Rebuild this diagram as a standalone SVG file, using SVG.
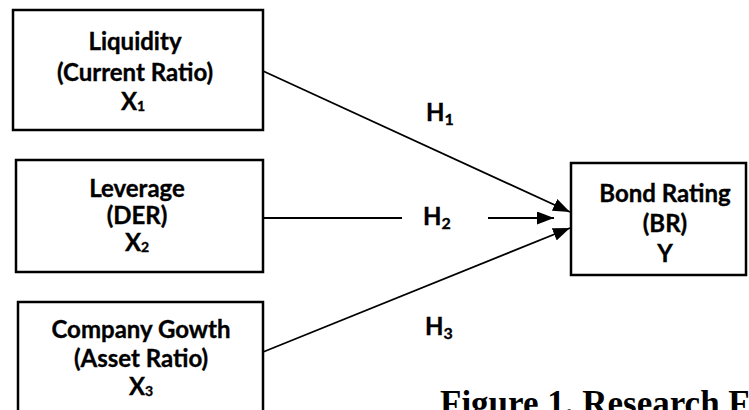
<svg xmlns="http://www.w3.org/2000/svg" width="749" height="410" viewBox="0 0 749 410">
  <style>
    .box { fill: #ffffff; stroke: #000000; stroke-width: 2.5; }
    .lbl { font-family: Lato, "Liberation Sans", Arial, sans-serif; font-weight: bold; font-size: 24px; fill: #000000; stroke: #000000; stroke-width: 0.35; text-anchor: middle; }
    .sub { font-size: 14px; }
    .hsub { font-size: 16px; }
    .hyp { font-family: Lato, "Liberation Sans", Arial, sans-serif; font-weight: bold; font-size: 24px; fill: #000000; stroke: #000000; stroke-width: 0.35; }
    .edge { fill: none; stroke: #000000; stroke-width: 1.8; }
    .caption { font-family: "Liberation Serif", "Times New Roman", serif; font-weight: bold; font-size: 35px; fill: #000000; }
  </style>
  <defs>
    <marker id="arrow" viewBox="0 0 17 13" refX="17" refY="6.5" markerWidth="17" markerHeight="13" markerUnits="userSpaceOnUse" orient="auto">
      <path d="M0,0 L17,6.5 L0,13 Z" fill="#000000"/>
    </marker>
  </defs>

  <rect width="749" height="410" fill="#ffffff"/>

  <!-- connectors -->
  <g id="connectors">
    <line class="edge" x1="263" y1="71" x2="570" y2="212" marker-end="url(#arrow)"/>
    <line class="edge" x1="263" y1="218" x2="402" y2="218"/>
    <line class="edge" x1="488" y1="218" x2="554" y2="218" marker-end="url(#arrow)"/>
    <line class="edge" x1="263" y1="352" x2="570" y2="228" marker-end="url(#arrow)"/>
    <text class="hyp" x="426" y="121">H<tspan class="hsub" dy="4">1</tspan></text>
    <text class="hyp" x="423" y="225">H<tspan class="hsub" dy="4">2</tspan></text>
    <text class="hyp" x="425" y="335">H<tspan class="hsub" dy="4">3</tspan></text>
  </g>

  <!-- independent variables -->
  <g id="liquidity">
    <rect class="box" x="13" y="10" width="250" height="120"/>
    <text class="lbl" x="135" y="50">Liquidity</text>
    <text class="lbl" x="135" y="81">(Current Ratio)</text>
    <text class="lbl" x="133" y="110">X<tspan class="sub" dy="1">1</tspan></text>
  </g>

  <g id="leverage">
    <rect class="box" x="16" y="160" width="247" height="112"/>
    <text class="lbl" x="137" y="197">Leverage</text>
    <text class="lbl" x="137" y="224">(DER)</text>
    <text class="lbl" x="137" y="251">X<tspan class="sub" dy="1">2</tspan></text>
  </g>

  <g id="growth">
    <rect class="box" x="18" y="302" width="245" height="120"/>
    <text class="lbl" x="141" y="338">Company Gowth</text>
    <text class="lbl" x="141" y="367">(Asset Ratio)</text>
    <text class="lbl" x="141" y="395">X<tspan class="sub" dy="1">3</tspan></text>
  </g>

  <!-- dependent variable -->
  <g id="bond-rating">
    <rect class="box" x="571" y="163" width="175" height="112"/>
    <text class="lbl" x="665" y="202">Bond Rating</text>
    <text class="lbl" x="665" y="232">(BR)</text>
    <text class="lbl" x="665" y="262">Y</text>
  </g>

  <text class="caption" x="440" y="415">Figure 1. Research Framework</text>
</svg>
